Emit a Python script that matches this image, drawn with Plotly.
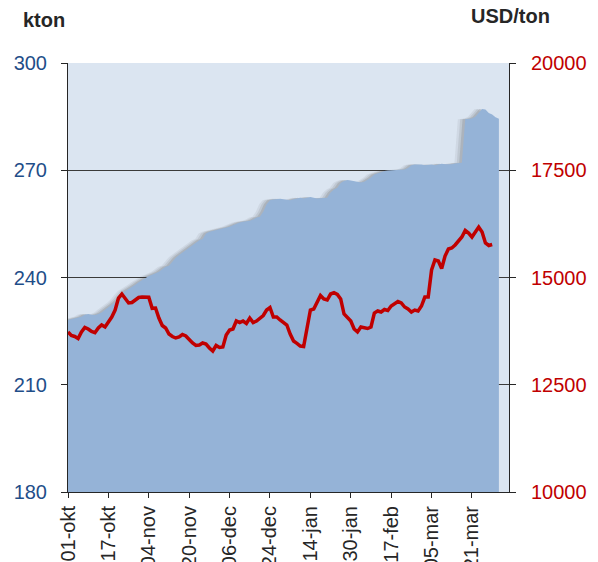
import plotly.graph_objects as go

# Stocks (kton), one value per trading day from 01-okt
stocks_kton = [
    228.1, 228.3, 228.5, 228.8, 229.0, 229.6, 229.8, 229.6, 229.5, 229.8,
    230.2, 231.0, 231.8, 232.4, 233.1, 234.0, 235.2, 236.2, 236.8, 237.3,
    238.0, 238.7, 239.3, 239.8, 240.4, 240.8, 241.1, 241.6, 242.3, 243.0,
    243.3, 244.5, 245.5, 246.3, 247.0, 247.6, 248.3, 249.0, 249.6, 250.4,
    250.8, 252.3, 252.8, 253.0, 253.4, 253.6, 253.7, 254.0, 254.2, 254.6,
    255.1, 255.4, 255.6, 255.7, 255.9, 256.2, 256.8, 257.0, 258.4, 260.5,
    261.6, 261.8, 262.0, 262.0, 261.9, 261.7, 261.6, 261.9, 262.1, 262.3,
    262.1, 262.3, 262.5, 262.3, 262.1, 262.2, 262.2, 262.3, 263.8, 264.6,
    265.1, 266.4, 267.0, 267.3, 267.1, 266.9, 266.7, 266.6, 266.8, 267.3,
    268.0, 268.8, 269.2, 269.6, 269.8, 269.9, 270.0, 270.1, 270.1, 270.1,
    270.2, 270.6, 271.4, 271.6, 271.7, 271.6, 271.4, 271.5, 271.6, 271.4,
    271.6, 271.8, 271.7, 271.6, 271.7, 271.9, 272.0, 272.1, 284.3, 284.3,
    284.5, 285.0, 286.0, 287.1, 287.0, 286.0, 285.6, 284.8, 284.4,
]

# Price (USD/ton)
price_usd = [
    13730, 13648, 13625, 13578, 13730, 13834, 13800, 13741, 13713, 13823,
    13893, 13846, 13963, 14079, 14242, 14522, 14615, 14499, 14406, 14417,
    14475, 14534, 14545, 14534, 14540, 14282, 14289, 14056, 13881, 13823,
    13683, 13625, 13590, 13613, 13671, 13636, 13543, 13473, 13415, 13427,
    13473, 13450, 13357, 13287, 13415, 13368, 13380, 13660, 13776, 13800,
    13986, 13947, 13986, 13928, 14056, 13951, 13986, 14056, 14114, 14242,
    14301, 14079, 14079, 14009, 13951, 13893, 13683, 13520, 13466, 13403,
    13391, 13870, 14242, 14265, 14406, 14580, 14499, 14475, 14615, 14645,
    14604, 14499, 14149, 14079, 13986, 13800, 13730, 13846, 13823, 13811,
    13846, 14172, 14219, 14196, 14254, 14231, 14335, 14382, 14440, 14406,
    14312, 14265, 14196, 14242, 14219, 14335, 14545, 14545, 15175, 15408,
    15385, 15210, 15501, 15664, 15688, 15758, 15839, 15944, 16096, 16037,
    15944, 16061, 16177, 16061, 15804, 15746, 15769,
]

tick_labels = ["01-okt", "17-okt", "04-nov", "20-nov", "06-dec", "24-dec",
               "14-jan", "30-jan", "17-feb", "05-mar", "21-mar"]
tick_step = 12

kton_ticks = [180, 210, 240, 270, 300]
usd_ticks = [10000, 12500, 15000, 17500, 20000]
usd_ticktext = ["10000", "12500", "15000", "17500", "20000"]

x_stock = list(range(len(stocks_kton)))
x_price = list(range(len(price_usd)))
tick_vals = [i * tick_step for i in range(len(tick_labels))]

X_RANGE = [0, 131]
KTON_RANGE = [180, 300]
USD_RANGE = [10000, 20000]

FONT = "Liberation Sans, Arial, sans-serif"
AREA = "#95b3d7"
BG = "#dbe5f1"
RED = "#c00000"
BLUE = "#1f4e89"
AXIS = "#262626"

fig = go.Figure()

# soft shadow to the left of the area edge
for shift, alpha in [(-2.2, 0.07), (-1.5, 0.10), (-0.8, 0.14)]:
    fig.add_trace(go.Scatter(
        x=[v + shift for v in x_stock], y=stocks_kton,
        mode="lines", line=dict(width=0), fill="tozeroy",
        fillcolor=f"rgba(60,60,60,{alpha})", hoverinfo="skip", showlegend=False,
    ))

fig.add_trace(go.Scatter(
    x=x_stock, y=stocks_kton, mode="lines", line=dict(width=0, color=AREA),
    fill="tozeroy", fillcolor=AREA, showlegend=False, name="kton",
))

fig.add_trace(go.Scatter(
    x=x_price, y=price_usd, mode="lines", yaxis="y2",
    line=dict(color=RED, width=3.5), showlegend=False, name="USD/ton",
))

inner_tick = dict(ticks="inside", ticklen=5, tickcolor=AXIS, tickwidth=1,
                  showticklabels=False, showline=False, showgrid=False,
                  zeroline=False, automargin=False)

fig.update_layout(
    width=590, height=554,
    margin=dict(l=60, r=89, t=55, b=70, autoexpand=False),
    paper_bgcolor="white", plot_bgcolor=BG,
    font=dict(family=FONT),
    xaxis=dict(
        range=X_RANGE, tickmode="array", tickvals=tick_vals, ticktext=tick_labels,
        tickangle=-90, ticks="outside", ticklen=5, tickcolor=AXIS, tickwidth=1,
        showline=True, linecolor=AXIS, linewidth=1, showgrid=False, zeroline=False,
        tickfont=dict(size=20, color=AXIS, family=FONT), ticklabelstandoff=0,
        automargin=False,
    ),
    xaxis2=dict(range=X_RANGE, tickmode="array", tickvals=tick_vals,
                overlaying="x", anchor="y", side="bottom", **inner_tick),
    yaxis=dict(
        range=KTON_RANGE, tickmode="array", tickvals=kton_ticks,
        ticks="outside", ticklen=6, tickcolor=AXIS, showline=True, linecolor=AXIS,
        linewidth=1, showgrid=True, gridcolor="#3a3a3a", gridwidth=1, zeroline=False,
        tickfont=dict(size=20, color=BLUE, family=FONT), ticklabelstandoff=10,
        automargin=False,
    ),
    yaxis2=dict(
        range=USD_RANGE, tickmode="array",
        tickvals=usd_ticks, ticktext=usd_ticktext,
        overlaying="y", side="right", ticks="outside", ticklen=6, tickcolor=AXIS,
        showline=True, linecolor=AXIS, linewidth=1, showgrid=False, zeroline=False,
        tickfont=dict(size=20, color=RED, family=FONT), ticklabelstandoff=11,
        automargin=False,
    ),
    yaxis3=dict(range=KTON_RANGE, tickmode="array", tickvals=kton_ticks,
                overlaying="y", anchor="x", side="left", **inner_tick),
    yaxis4=dict(range=USD_RANGE, tickmode="array", tickvals=usd_ticks,
                overlaying="y", anchor="x", side="right", **inner_tick),
    annotations=[
        dict(text="<b>kton</b>", xref="paper", yref="paper", x=-0.054, y=1.100,
             showarrow=False, xanchor="center", yanchor="middle",
             font=dict(size=20, color=AXIS, family=FONT)),
        dict(text="<b>USD/ton</b>", xref="paper", yref="paper", x=1.0045, y=1.1096,
             showarrow=False, xanchor="center", yanchor="middle",
             font=dict(size=20, color=AXIS, family=FONT)),
    ],
)

fig.write_html("out.html")
